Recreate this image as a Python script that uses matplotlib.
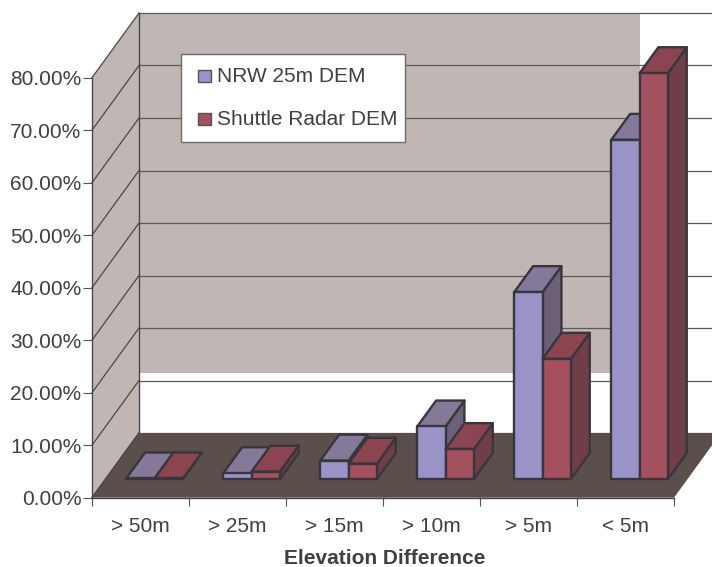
import matplotlib
matplotlib.use("Agg")
import matplotlib.pyplot as plt
from matplotlib.patches import Polygon, Rectangle

plt.rcParams['font.family'] = ['Liberation Sans', 'DejaVu Sans']

categories = ['> 50m', '> 25m', '> 15m', '> 10m', '> 5m', '< 5m']
nrw_25m = [0.1, 1.1, 3.5, 10.0, 35.6, 64.6]
shuttle_radar = [0.1, 1.4, 2.9, 5.7, 22.9, 77.3]
y_ticks = [0, 10, 20, 30, 40, 50, 60, 70, 80]
y_labels = ['0.00%', '10.00%', '20.00%', '30.00%', '40.00%', '50.00%', '60.00%', '70.00%', '80.00%']
series_names = ['NRW 25m DEM', 'Shuttle Radar DEM']

W, H = 712, 567
PX_X = 97.0      # pixels per category
PX_Y = 5.25      # pixels per percent
DX = 47.0 / PX_X     # depth shear in data units
DY = 64.7 / PX_Y

TEXT = '#3f3f44'
EDGE = '#38363c'
GRID = '#5f585b'
WALL = '#c0b7b4'
FLOOR = '#5a4f4b'
BLUE = ('#9a93c7', '#85799a', '#6c6079')
RED = ('#a4505e', '#8a4551', '#703e48')

fig = plt.figure(figsize=(W / 100, H / 100), dpi=100, facecolor='white')
ax = fig.add_axes([92 / W, (H - 497.7) / H, 582 / W, 420 / H])
ax.set_xlim(0, 6)
ax.set_ylim(0, 80)
ax.patch.set_visible(False)


def p(x, y, d):
    return (x + d * DX, y + d * DY)


def poly(pts, fc, ec='none', lw=0.0, z=1):
    ax.add_patch(Polygon(pts, closed=True, facecolor=fc, edgecolor=ec, linewidth=lw,
                         joinstyle='round', clip_on=False, zorder=z))


# walls and floor
ymax = y_ticks[-1]
poly([p(0, 0, 0), p(0, 0, 1), p(0, ymax, 1), p(0, ymax, 0)], WALL, z=1)
wall_right = (640 - 92 - 47) / PX_X
wall_low = (497.7 - 373) / PX_Y - DY
ax.add_patch(Polygon([p(0, wall_low, 1), p(wall_right, wall_low, 1),
                      p(wall_right, ymax, 1), p(0, ymax, 1)], closed=True,
                     facecolor=WALL, edgecolor='none', clip_on=False, zorder=1))
poly([p(0, 0, 0), p(6, 0, 0), p(6, 0, 1), p(0, 0, 1)], FLOOR, z=2)

for v in y_ticks:
    a, b = p(0, v, 0), p(0, v, 1)
    ax.plot([a[0], b[0]], [a[1], b[1]], color='#4c4649', lw=0.9, clip_on=False, zorder=1.5)
    c = p(6, v, 1)
    ax.plot([b[0], c[0]], [b[1], c[1]], color=GRID, lw=0.9, clip_on=False, zorder=1.5)
a, b = p(0, 0, 1), p(0, ymax, 1)
ax.plot([a[0], b[0]], [a[1], b[1]], color='#4c4649', lw=1.0, clip_on=False, zorder=1.6)
a, b = p(0, 0, 0), p(0, 0, 1)
ax.plot([a[0], b[0]], [a[1], b[1]], color='#4c4649', lw=1.0, clip_on=False, zorder=2.5)

# bars
GAP = 0.213
BW = 0.292
D0, D1 = 0.29, 0.69


def bar(x, val, cols, z):
    y0 = 0
    fr = [p(x, y0, D0), p(x + BW, y0, D0), p(x + BW, val, D0), p(x, val, D0)]
    top = [p(x, val, D0), p(x + BW, val, D0), p(x + BW, val, D1), p(x, val, D1)]
    side = [p(x + BW, y0, D0), p(x + BW, y0, D1), p(x + BW, val, D1), p(x + BW, val, D0)]
    poly(side, cols[2], EDGE, 1.7, z)
    poly(top, cols[1], EDGE, 1.7, z)
    poly(fr, cols[0], EDGE, 1.7, z)


for i in range(len(categories)):
    bar(i + GAP, nrw_25m[i], BLUE, 3 + i * 0.1)
    bar(i + GAP + BW, shuttle_radar[i], RED, 3.05 + i * 0.1)

# axes furniture
for s in ('top', 'right'):
    ax.spines[s].set_visible(False)
for s in ('left', 'bottom'):
    ax.spines[s].set_color('#4c4649')
    ax.spines[s].set_linewidth(1.0)
    ax.spines[s].set_zorder(2.6)
ax.set_yticks(y_ticks)
ax.set_yticklabels(y_labels)
ax.set_xticks(range(len(categories) + 1))
ax.set_xticklabels([])
ax.set_xticks([i + 0.5 for i in range(len(categories))], minor=True)
ax.set_xticklabels(categories, minor=True)
ax.tick_params(axis='y', length=6.5, width=0.8, color='#555055', labelsize=15, labelcolor=TEXT, pad=1.2)
ax.tick_params(axis='x', which='major', length=6, width=0.8, color='#555055')
ax.tick_params(axis='x', which='minor', length=0, labelsize=15, labelcolor=TEXT, pad=14.2)
ax.set_xlabel('Elevation Difference', fontsize=15, fontweight='bold', color=TEXT, labelpad=8.8, x=0.503)

# legend box, in figure pixels
ftr = fig.transFigure
def fx(px): return px / W
def fy(py): return 1 - py / H
fig.add_artist(Rectangle((fx(180.5), fy(141.5)), 224.5 / W, 87.5 / H, transform=ftr,
                         facecolor='white', edgecolor='#6e696c', linewidth=1.0, zorder=10))
for name, col, yc in zip(series_names, (BLUE[0], RED[0]), (75.5, 118.5)):
    fig.add_artist(Rectangle((fx(198.5), fy(yc + 6)), 12.5 / W, 12 / H, transform=ftr,
                             facecolor=col, edgecolor='#55525a', linewidth=1.0, zorder=11))
    fig.text(fx(217), fy(yc + 1), name, fontsize=15, color=TEXT, va='center', ha='left', zorder=12)

fig.savefig('out.png', dpi=100, facecolor='white')
